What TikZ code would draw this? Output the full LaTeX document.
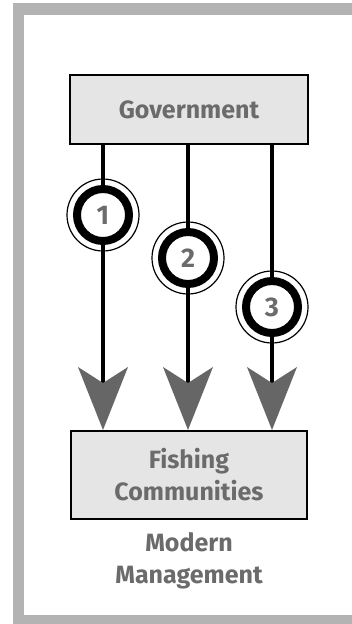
\documentclass[tikz,border=0pt]{standalone}
\usepackage{fontspec}
\setmainfont{Fira Sans}
\usetikzlibrary{arrows.meta}
\definecolor{framegray}{HTML}{B3B3B3}
\definecolor{boxfill}{HTML}{E5E5E5}
\definecolor{txtgray}{HTML}{6B6B6B}
\definecolor{arrowgray}{HTML}{666666}
\tikzset{
  box/.style={draw=black, line width=2pt, fill=boxfill, text=txtgray,
    font=\fontsize{25}{32}\selectfont\bfseries, align=center, inner sep=0pt},
  conn/.style={draw=black, line width=4.5pt,
    -{Stealth[length=63pt,width=50pt,inset=16pt,line width=0pt,color=arrowgray]}},
  ring/.style={circle, draw=black, line width=8pt, fill=white, minimum size=52pt,
    inner sep=0pt, text=txtgray, font=\fontsize{27}{30}\selectfont\bfseries},
  halo/.style={circle, draw=black, line width=1.2pt, minimum size=72pt, inner sep=0pt},
  caption/.style={text=txtgray, font=\fontsize{25}{32}\selectfont\bfseries, align=center}
}
\begin{document}
\begin{tikzpicture}[x=1pt,y=1pt]
\useasboundingbox (0,0) rectangle (352,-624);
\fill[framegray] (13,-3) rectangle (352,-624);
\fill[white] (24,-15) rectangle (352,-615);
\node[box, minimum width=238pt, minimum height=69pt] (gov) at (189,-109.5) {Government};
\node[box, minimum width=236pt, minimum height=88pt] (fish) at (189,-475) {Fishing\\Communities};
\node[caption] (mm) at (189,-561) {Modern\\Management};
\coordinate (x1) at (103,0);
\coordinate (x2) at (188,0);
\coordinate (x3) at (272,0);
\draw[conn] (gov.south -| x1) -- (fish.north -| x1);
\draw[conn] (gov.south -| x2) -- (fish.north -| x2);
\draw[conn] (gov.south -| x3) -- (fish.north -| x3);
\node[halo] (h1) at (103,-215) {};
\node[ring] (r1) at (103,-215) {1};
\node[halo] (h2) at (188,-258) {};
\node[ring] (r2) at (188,-258) {2};
\node[halo] (h3) at (272,-307) {};
\node[ring] (r3) at (272,-307) {3};
\end{tikzpicture}
\end{document}
